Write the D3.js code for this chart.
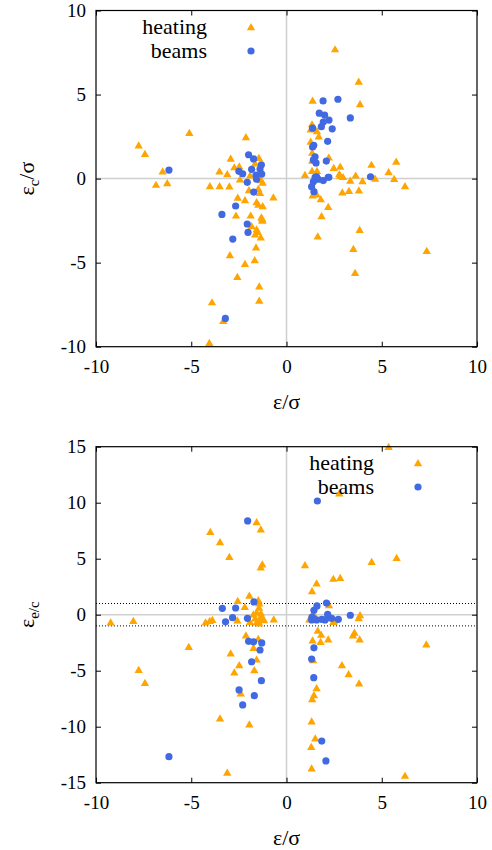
<!DOCTYPE html>
<html>
<head>
<meta charset="utf-8">
<script src="https://cdn.jsdelivr.net/npm/d3@7"></script>
<style>
  body { margin: 0; background: #fff; }
  svg { display: block; }
</style>
</head>
<body>
<div id="chart"></div>
<script>
// --- data ---

// top panel: eps_c/sigma vs eps/sigma
const topHeating = [
  [-7.76, 1.98], [-7.43, 1.48], [-5.1, 2.72], [-2.13, 2.47], [-6.5, 0.43], [-6.85, -0.36], [-6.26, -0.26],
  [-3.52, 0.44], [-3.11, 0.27], [-2.93, 1.2], [-2.74, 0.68], [-2.48, 0.73], [-1.45, 1.24], [-1.65, 0.91],
  [-1.91, 0.2], [-1.34, -0.08], [-1.25, -0.24], [-2.44, -0.04], [-4.02, -0.44], [-3.51, -0.44], [-3.0, -0.46],
  [-1.97, -0.68], [-1.48, -0.6], [-1.39, -0.84], [-2.56, -1.12], [-2.18, -1.27], [-0.69, -1.11], [-1.57, -1.39],
  [-1.48, -1.55], [-1.25, -1.63], [-2.65, -2.19], [-1.88, -2.19], [-1.32, -2.3], [-1.27, -2.4], [-1.27, -2.5],
  [-1.83, -2.82], [-1.57, -3.02], [-1.51, -3.16], [-1.65, -3.32], [-1.35, -3.49], [-1.6, -4.09], [-2.97, -4.55],
  [-1.67, -4.85], [-2.18, -5.07], [-2.58, -5.84], [-1.43, -6.41], [-3.91, -7.35], [-1.43, -7.25], [-3.32, -8.46],
  [-4.05, -9.77],
  [2.55, 7.7], [3.79, 5.77], [3.86, 4.44], [1.37, 4.64], [1.34, 3.24], [1.27, 2.93], [1.6, 2.83], [1.69, 2.52],
  [1.27, 2.2], [1.35, 1.55], [2.22, 1.26], [1.35, 1.07], [2.48, 0.64], [2.82, 0.72], [4.46, 0.83], [5.76, 1.01],
  [5.36, 0.39], [0.97, 0.23], [1.34, 0.47], [1.6, 0.47], [2.77, 0.27], [2.82, 0.17], [2.97, 0.1], [3.63, 0.19],
  [4.65, 0.0], [5.65, -0.01], [6.22, -0.44], [3.35, -0.11], [3.99, -0.15], [1.37, -1.0], [1.58, -0.93],
  [2.93, -0.81], [3.28, -0.73], [3.8, -0.7], [1.8, -1.22], [2.19, -1.68], [1.84, -2.23], [3.84, -3.04],
  [1.64, -3.43], [3.51, -4.17], [7.36, -4.29], [3.6, -5.6]
];
const topBeams = [
  [-6.17, 0.51], [-1.99, 1.42], [-1.73, 1.17], [-1.32, 0.82], [-1.39, 0.57], [-1.3, 0.27], [-1.83, 0.55],
  [-2.5, 0.43], [-2.3, 0.29], [-2.06, -0.22], [-1.6, 0.21], [-1.57, -0.04], [-1.72, -0.8], [-2.67, -1.63],
  [-3.39, -2.13], [-2.06, -2.7], [-2.02, -3.2], [-2.82, -3.6], [-3.21, -8.32],
  [1.92, 4.62], [2.7, 4.72], [1.72, 3.89], [2.0, 3.78], [2.23, 3.48], [1.93, 3.36], [1.83, 3.09], [2.4, 2.96],
  [3.35, 3.61], [1.37, 3.0], [1.43, 1.98], [1.37, 1.88], [2.16, 2.22], [1.5, 1.3], [1.41, 1.11], [1.55, 0.93],
  [2.09, 1.04], [2.22, 0.08], [4.41, 0.11], [1.5, 0.08], [1.67, -0.04], [1.93, -0.12], [2.19, 0.08],
  [1.41, -0.18], [1.32, -0.48], [1.44, -0.78], [1.58, 0.1]
];

// bottom panel: eps_e/c vs eps/sigma
const botHeating = [
  [-1.57, 8.28], [-1.35, 7.62], [-4.0, 7.41], [-3.49, 6.49], [-3.0, 5.18], [-1.27, 4.5], [-1.35, 4.23],
  [-1.95, 1.72], [-2.56, 1.25], [-1.48, 1.31], [-1.43, 1.02], [-2.19, 0.71], [-1.44, 0.64], [-1.57, 0.21],
  [-1.34, 0.13], [-9.23, -0.68], [-8.04, -0.54], [-4.25, -0.68], [-4.03, -0.55], [-3.89, -0.46], [-2.58, -0.5],
  [-1.92, -0.63], [-1.65, -0.32], [-1.48, -0.56], [-1.25, -0.32], [-1.18, -0.47], [-1.43, -0.77], [-1.57, -0.68],
  [-1.35, -0.18], [-1.74, 0.04], [-0.67, -0.41], [-2.13, -1.84], [-1.48, -2.15], [-1.73, -2.95], [-5.13, -2.86],
  [-2.93, -3.45], [-1.57, -3.99], [-2.48, -4.49], [-2.74, -5.15], [-1.69, -4.94], [-7.76, -4.91], [-7.43, -6.07],
  [-2.4, -7.02], [-3.49, -9.25], [-1.95, -9.79], [-3.11, -14.1],
  [5.36, 15.0], [2.77, 10.84], [0.97, 4.44], [4.47, 4.73], [5.78, 5.09], [1.58, 2.8], [1.34, 2.12],
  [2.46, 3.22], [2.82, 3.3], [2.23, 0.87], [1.41, 0.12], [3.86, -0.03], [3.79, -0.3], [1.2, -0.41],
  [2.49, -0.56], [2.46, -0.63], [1.64, -1.42], [1.82, -1.78], [1.37, -2.29], [1.79, -2.41], [2.19, -2.2],
  [3.57, -1.6], [3.49, -1.84], [3.84, -2.2], [7.34, -2.64], [1.4, -4.05], [2.91, -4.49], [3.26, -5.29],
  [3.81, -6.13], [1.58, -6.54], [1.44, -7.17], [1.35, -7.53], [1.32, -9.52], [1.51, -11.04], [1.3, -11.79],
  [1.32, -13.72], [6.22, -14.37]
];
const botBeams = [
  [-2.04, 8.37], [-1.71, 1.14], [-3.37, 0.57], [-2.67, 0.6], [-2.83, -0.27], [-2.05, -0.32], [-3.2, -0.64],
  [-1.99, -2.38], [-1.73, -2.42], [-1.3, -2.52], [-1.39, -3.15], [-1.83, -4.2], [-1.32, -5.89], [-2.49, -6.72],
  [-1.69, -7.23], [-2.3, -8.06], [-6.17, -12.68],
  [1.62, 10.15], [2.1, 1.04], [1.6, 0.78], [1.44, 0.39], [2.16, 0.03], [3.35, -0.05], [1.34, -0.21],
  [1.32, -0.47], [1.41, -0.32], [1.58, -0.47], [1.85, -0.41], [2.02, -0.47], [2.19, -0.27], [2.37, -0.32],
  [2.72, -0.41], [1.44, -2.96], [1.32, -3.96], [1.43, -5.62], [1.85, -11.28], [2.07, -13.06]
];

const xTicks = [-10, -5, 0, 5, 10];
const topYTicks = [-10, -5, 0, 5, 10];
const botYTicks = [-15, -10, -5, 0, 5, 10, 15];
const seriesNames = ['heating', 'beams'];

// --- layout ---
const W = 492, H = 850;
const orange = '#ffa500', blue = '#4169e1';
const left = 96, right = 477;
const serif = '"Liberation Serif", "Times New Roman", Tinos, "DejaVu Serif", serif';

const svg = d3.select('#chart').append('svg')
  .attr('width', W).attr('height', H)
  .attr('font-family', serif);

const tri = d3.symbol().type(d3.symbolTriangle).size(30);

function panel(opts) {
  const x = d3.scaleLinear().domain([-10, 10]).range([left, right]);
  const y = d3.scaleLinear().domain(opts.yDomain).range([opts.bottom, opts.top]);
  const g = svg.append('g');

  // zero lines
  g.append('line')
    .attr('x1', x(0)).attr('x2', x(0)).attr('y1', opts.top).attr('y2', opts.bottom)
    .attr('stroke', '#cfcfcf').attr('stroke-width', 1.5);
  g.append('line')
    .attr('x1', left).attr('x2', right).attr('y1', y(0)).attr('y2', y(0))
    .attr('stroke', '#cfcfcf').attr('stroke-width', 1.5);

  (opts.dotted || []).forEach(v => {
    g.append('line')
      .attr('x1', left).attr('x2', right).attr('y1', y(v)).attr('y2', y(v))
      .attr('stroke', '#000').attr('stroke-width', 1)
      .attr('stroke-dasharray', '1,2');
  });

  // axes, ticks pointing inward, mirrored
  const fmt = d => String(d);
  const ax = (axis, tr) => g.append('g').attr('transform', tr).call(axis)
    .attr('font-family', serif).attr('font-size', 19)
    .call(s => s.select('.domain').remove())
    .call(s => s.selectAll('.tick line').attr('stroke', '#000'))
    .call(s => s.selectAll('.tick text').attr('fill', '#000'));

  ax(d3.axisBottom(x).tickValues(xTicks).tickSize(-5).tickPadding(13).tickFormat(fmt),
    `translate(0,${opts.bottom})`);
  ax(d3.axisTop(x).tickValues(xTicks).tickSize(-5).tickFormat(''), `translate(0,${opts.top})`);
  ax(d3.axisLeft(y).tickValues(opts.yTicks).tickSize(-5).tickPadding(10).tickFormat(fmt),
    `translate(${left},0)`);
  ax(d3.axisRight(y).tickValues(opts.yTicks).tickSize(-5).tickFormat(''), `translate(${right},0)`);

  // points
  const clip = 'clip' + opts.id;
  svg.append('clipPath').attr('id', clip).append('rect')
    .attr('x', left).attr('y', opts.top - 4).attr('width', right - left).attr('height', opts.bottom - opts.top + 4);
  const pts = g.append('g').attr('clip-path', `url(#${clip})`);
  pts.selectAll('path.heat').data(opts.heating).join('path')
    .attr('class', 'heat')
    .attr('d', tri)
    .attr('transform', d => `translate(${x(d[0])},${y(d[1]) + 0.8})`)
    .attr('fill', orange);
  pts.selectAll('circle.beam').data(opts.beams).join('circle')
    .attr('class', 'beam')
    .attr('cx', d => x(d[0])).attr('cy', d => y(d[1]))
    .attr('r', 3.6)
    .attr('fill', blue);

  // frame
  g.append('rect')
    .attr('x', left).attr('y', opts.top)
    .attr('width', right - left).attr('height', opts.bottom - opts.top)
    .attr('fill', 'none').attr('stroke', '#000').attr('stroke-width', 1.2);

  // legend
  seriesNames.forEach((name, i) => {
    const ly = opts.legendY + i * 24;
    g.append('text')
      .attr('x', opts.legendTextX).attr('y', ly).attr('dy', '0.32em')
      .attr('text-anchor', 'end').attr('font-size', 22)
      .text(name);
    if (i === 0) {
      g.append('path').attr('d', tri)
        .attr('transform', `translate(${opts.legendSymX},${ly + 0.8})`)
        .attr('fill', orange);
    } else {
      g.append('circle').attr('cx', opts.legendSymX).attr('cy', ly).attr('r', 3.6).attr('fill', blue);
    }
  });

  // x label
  g.append('text')
    .attr('x', x(0)).attr('y', opts.bottom + 62)
    .attr('text-anchor', 'middle').attr('font-size', 22)
    .text('ε/σ');

  // y label
  const yl = g.append('text')
    .attr('transform', `translate(34,${y(0)}) rotate(-90)`)
    .attr('text-anchor', 'middle').attr('font-size', 22);
  yl.append('tspan').text('ε');
  yl.append('tspan').attr('dy', 5).attr('font-size', 15).text(opts.sub);
  if (opts.suffix) yl.append('tspan').attr('dy', -5).text(opts.suffix);
}

panel({
  id: 'top', top: 10.5, bottom: 346.7, yDomain: [-10, 10], yTicks: topYTicks,
  heating: topHeating, beams: topBeams,
  legendY: 27, legendTextX: 207, legendSymX: 251,
  sub: 'c', suffix: '/σ'
});

panel({
  id: 'bot', top: 446.7, bottom: 782.7, yDomain: [-15, 15], yTicks: botYTicks,
  heating: botHeating, beams: botBeams, dotted: [1, -1],
  legendY: 463, legendTextX: 374, legendSymX: 418,
  sub: 'e/c', suffix: ''
});
</script>
</body>
</html>
